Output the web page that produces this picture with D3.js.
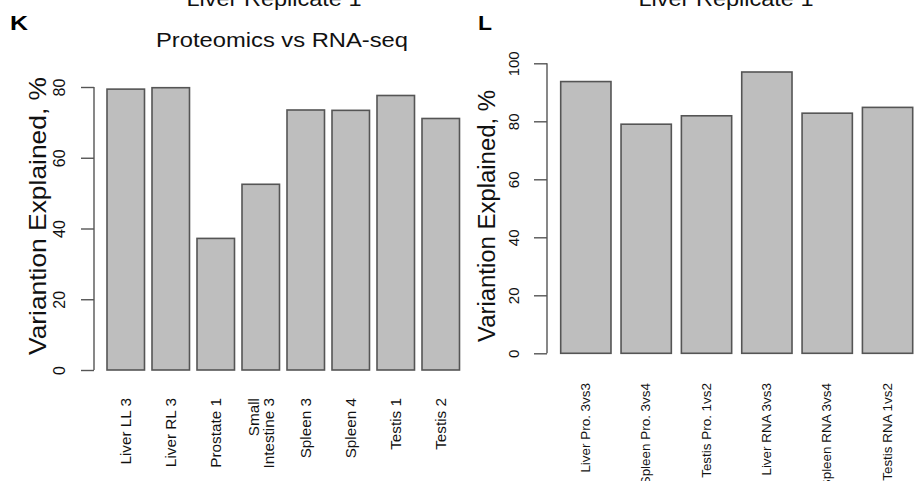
<!DOCTYPE html>
<html>
<head>
<meta charset="utf-8">
<script src="https://cdn.jsdelivr.net/npm/d3@7"></script>
<style>
  html, body { margin: 0; padding: 0; background: #fff; }
  svg { display: block; font-family: "Liberation Sans", Arial, Helvetica, sans-serif; }
</style>
</head>
<body>
<svg id="chart" width="919" height="481"></svg>
<script>
// Panel K: tissue comparisons, proteomics vs RNA-seq
const kCategories = ["Liver LL 3", "Liver RL 3", "Prostate 1", "Small\nIntestine 3",
                     "Spleen 3", "Spleen 4", "Testis 1", "Testis 2"];
const kValues = [79.4, 79.8, 37.2, 52.5, 73.5, 73.4, 77.6, 71.1];
const kTicks = [0, 20, 40, 60, 80];

// Panel L: replicate comparisons
const lCategories = ["Liver Pro. 3vs3", "Spleen Pro. 3vs4", "Testis Pro. 1vs2",
                     "Liver RNA 3vs3", "Spleen RNA 3vs4", "Testis RNA 1vs2"];
const lValues = [93.7, 79.0, 81.9, 97.0, 82.8, 84.8];
const lTicks = [0, 20, 40, 60, 80, 100];

const svg = d3.select("#chart");
const BAR_FILL = "#bebebe", BAR_STROKE = "#555", AXIS = "#555", TEXT = "#111";

function panel(cfg) {
  const g = svg.append("g");
  const x = d3.scaleBand().domain(cfg.categories).range(cfg.xRange)
    .paddingInner(1 / 6).paddingOuter(0);
  const y = d3.scaleLinear().domain(cfg.yDomain).range(cfg.yRange);

  // bars
  g.selectAll("rect.bar").data(cfg.values).enter().append("rect")
    .attr("class", "bar")
    .attr("x", (d, i) => x(cfg.categories[i]))
    .attr("y", d => y(d))
    .attr("width", x.bandwidth())
    .attr("height", d => y(0) - y(d))
    .attr("fill", BAR_FILL)
    .attr("stroke", BAR_STROKE)
    .attr("stroke-width", 1.6);

  // y axis (R style: line spans first to last tick, rotated labels)
  const axis = d3.axisLeft(y).tickValues(cfg.ticks).tickSize(13).tickSizeOuter(0).tickFormat(d3.format("d"));
  const ax = g.append("g").attr("transform", `translate(${cfg.axisX},0)`).call(axis);
  ax.select(".domain").attr("d", `M0,${y(cfg.ticks[0])}V${y(cfg.ticks[cfg.ticks.length - 1])}`)
    .attr("stroke", AXIS).attr("stroke-width", 1.4);
  ax.selectAll(".tick line").attr("stroke", AXIS).attr("stroke-width", 1.4);
  ax.selectAll(".tick text")
    .attr("x", null).attr("dy", null)
    .attr("transform", `translate(${cfg.tickLabelX - cfg.axisX},0) rotate(-90)`)
    .attr("text-anchor", "middle")
    .attr("dominant-baseline", "central")
    .attr("font-size", cfg.tickFont)
    .attr("font-family", "Liberation Sans, Arial, sans-serif")
    .attr("fill", TEXT);

  // y axis title
  g.append("text")
    .attr("transform", `translate(${cfg.yTitleX},${cfg.yTitleY}) rotate(-90)`)
    .attr("text-anchor", "middle")
    .attr("dominant-baseline", "central")
    .attr("font-size", cfg.yTitleFont)
    .attr("textLength", cfg.yTitleLen)
    .attr("lengthAdjust", "spacingAndGlyphs")
    .attr("fill", TEXT)
    .text("Variantion Explained, %");

  // category labels, perpendicular to the axis
  cfg.categories.forEach(c => {
    const lines = c.split("\n");
    const cx = x(c) + x.bandwidth() / 2;
    lines.forEach((ln, j) => {
      const off = (j - (lines.length - 1) / 2) * cfg.catLine;
      g.append("text")
        .attr("transform", `translate(${cx + off},${cfg.catTop}) rotate(-90) scale(${cfg.catStretch},1)`)
        .attr("text-anchor", "end")
        .attr("dominant-baseline", "central")
        .attr("font-size", cfg.catFont)
        .attr("fill", TEXT)
        .text(ln);
    });
  });

  // titles
  cfg.titles.forEach(t => {
    g.append("text")
      .attr("x", t.x).attr("y", t.y)
      .attr("text-anchor", "middle")
      .attr("font-size", t.size)
      .attr("textLength", t.len)
      .attr("lengthAdjust", "spacingAndGlyphs")
      .attr("fill", TEXT)
      .text(t.text);
  });

  // panel letter
  g.append("text")
    .attr("x", cfg.letterX).attr("y", 30)
    .attr("font-size", 21).attr("font-weight", "bold")
    .attr("textLength", cfg.letterLen)
    .attr("lengthAdjust", "spacingAndGlyphs")
    .attr("fill", "#000")
    .text(cfg.letter);
}

panel({
  categories: kCategories, values: kValues, ticks: kTicks,
  xRange: [107, 459.5], yDomain: [0, 80], yRange: [370, 87],
  axisX: 94, tickLabelX: 59, tickFont: 16,
  yTitleX: 37, yTitleY: 216, yTitleFont: 24, yTitleLen: 278,
  catTop: 398, catFont: 15, catLine: 15, catStretch: 1.02,
  titles: [
    { text: "Liver Replicate 1", x: 274, y: 6, size: 21, len: 175 },
    { text: "Proteomics vs RNA-seq", x: 282, y: 46.5, size: 21, len: 252 }
  ],
  letter: "K", letterX: 10, letterLen: 18
});

panel({
  categories: lCategories, values: lValues, ticks: lTicks,
  xRange: [560.7, 912.7], yDomain: [0, 100], yRange: [353.3, 63.3],
  axisX: 547, tickLabelX: 513.5, tickFont: 15,
  yTitleX: 487, yTitleY: 216, yTitleFont: 23, yTitleLen: 252,
  catTop: 383, catFont: 12, catLine: 12, catStretch: 1.12,
  titles: [
    { text: "Liver Replicate 1", x: 726, y: 6, size: 21, len: 175 }
  ],
  letter: "L", letterX: 478, letterLen: 14
});
</script>
</body>
</html>
